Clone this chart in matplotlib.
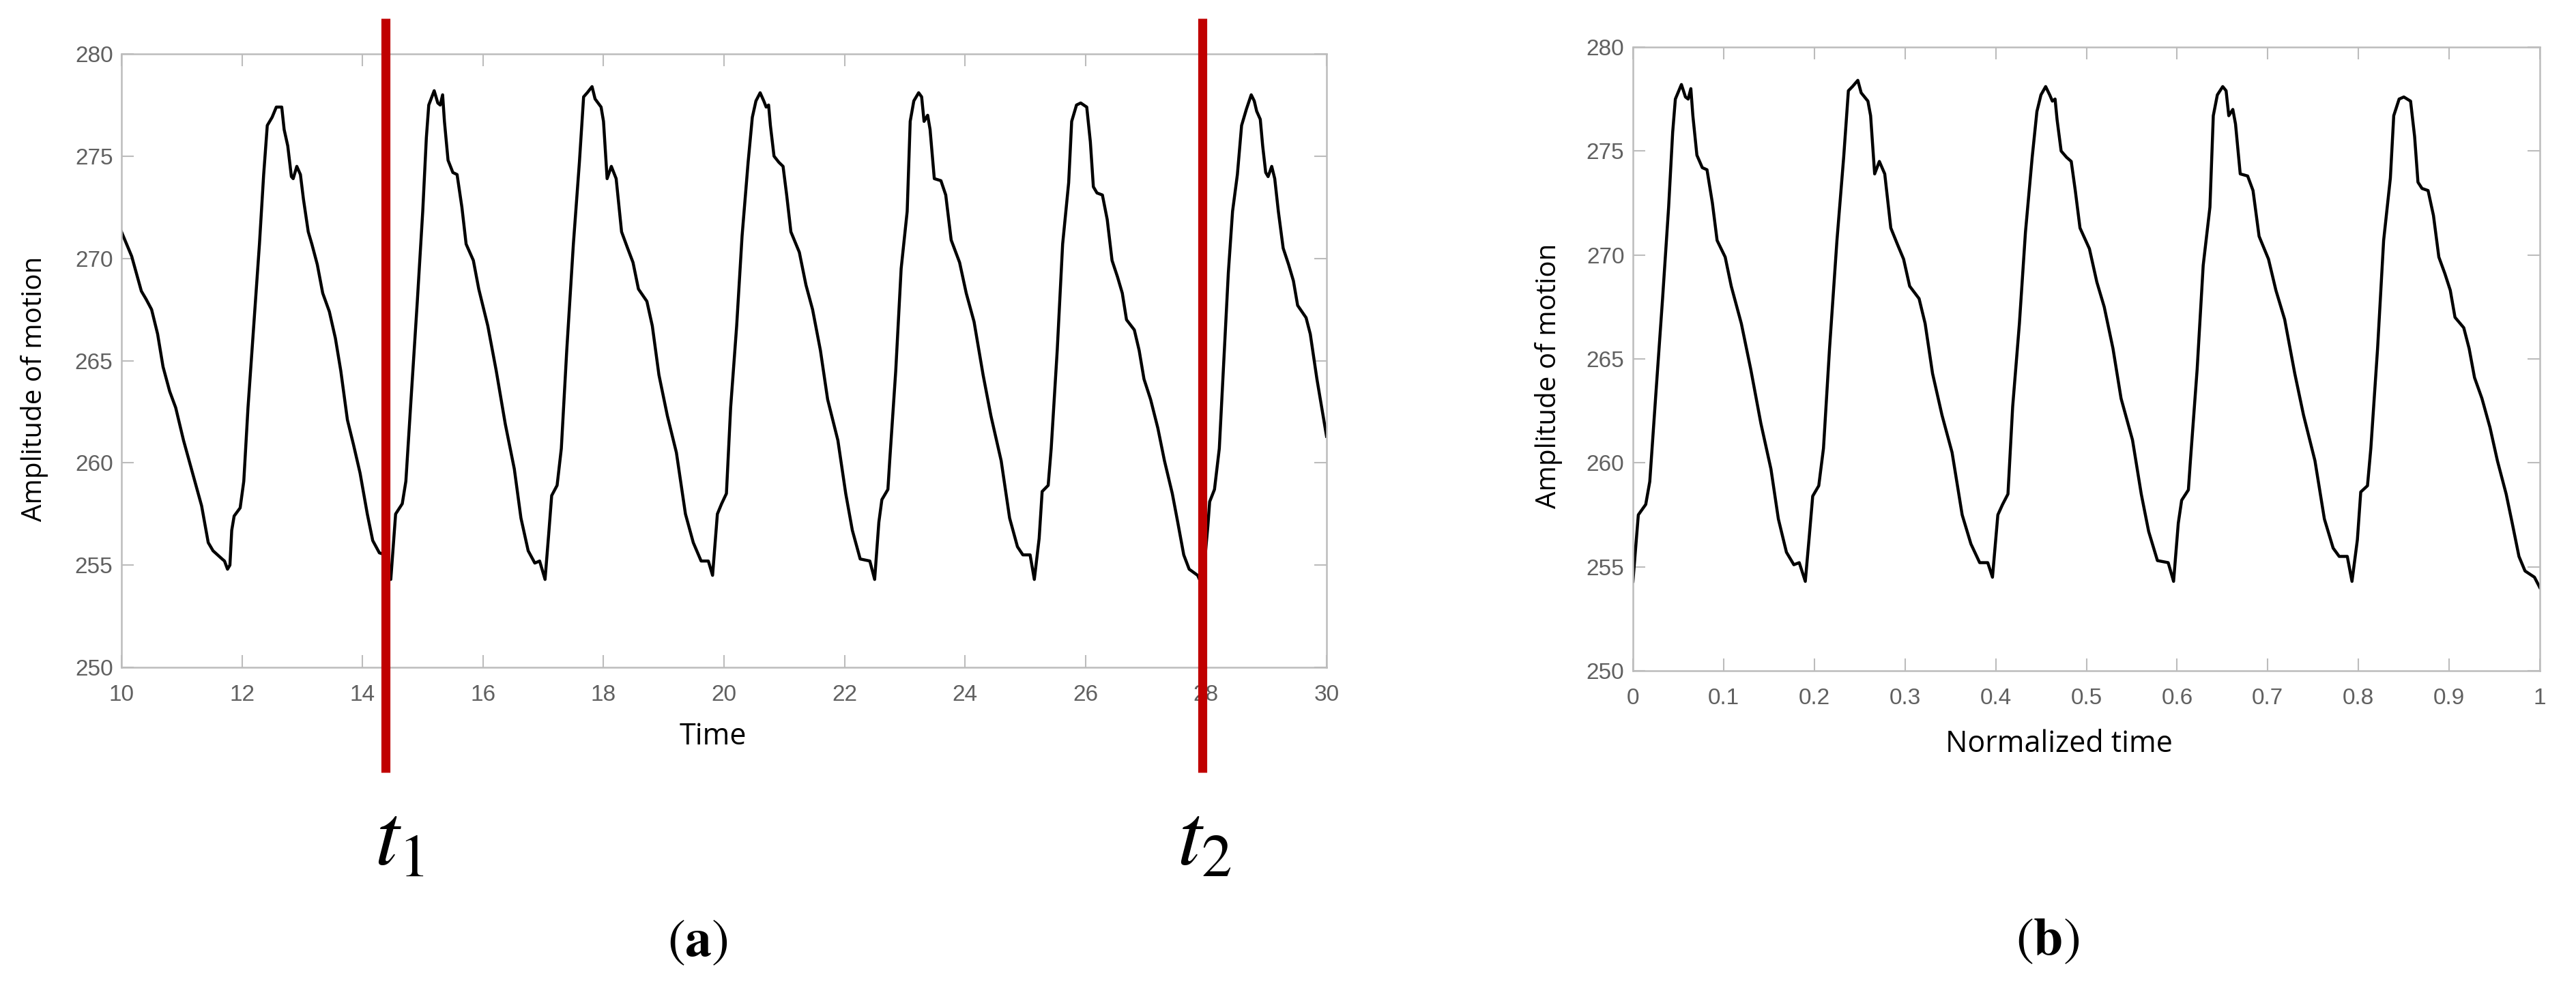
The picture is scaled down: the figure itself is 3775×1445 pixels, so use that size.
import numpy as np
import matplotlib.pyplot as plt

# signal
time_a = [
    10.00, 10.17, 10.33, 10.41, 10.50, 10.60, 10.69, 10.80, 10.90, 11.03,
    11.18, 11.33, 11.44, 11.52, 11.67, 11.71, 11.76, 11.80, 11.83, 11.87,
    11.97, 12.03, 12.10, 12.20, 12.29, 12.36, 12.42, 12.50, 12.57, 12.66,
    12.70, 12.76, 12.82, 12.85, 12.91, 12.97, 13.02, 13.10, 13.16, 13.25,
    13.34, 13.45, 13.55, 13.64, 13.75, 13.85, 13.96, 14.08, 14.17, 14.28,
    14.38, 14.47, 14.55, 14.66, 14.72, 14.81, 14.91, 15.00, 15.06, 15.10,
    15.19, 15.25, 15.29, 15.33, 15.36, 15.42, 15.50, 15.57, 15.65, 15.72,
    15.84, 15.93, 16.08, 16.22, 16.37, 16.52, 16.63, 16.75, 16.86, 16.94,
    16.99, 17.03, 17.09, 17.14, 17.23, 17.30, 17.39, 17.50, 17.60, 17.67,
    17.73, 17.81, 17.86, 17.96, 18.00, 18.06, 18.13, 18.21, 18.30, 18.40,
    18.49, 18.58, 18.72, 18.81, 18.92, 19.06, 19.21, 19.36, 19.49, 19.62,
    19.74, 19.81, 19.89, 19.96, 20.04, 20.11, 20.21, 20.30, 20.40, 20.47,
    20.53, 20.60, 20.66, 20.70, 20.74, 20.77, 20.83, 20.91, 20.98, 21.04,
    21.11, 21.25, 21.36, 21.47, 21.60, 21.72, 21.89, 22.02, 22.13, 22.26,
    22.42, 22.50, 22.57, 22.62, 22.72, 22.75, 22.85, 22.94, 23.04, 23.09,
    23.15, 23.23, 23.28, 23.32, 23.38, 23.42, 23.49, 23.60, 23.68, 23.77,
    23.91, 24.02, 24.15, 24.30, 24.43, 24.60, 24.74, 24.87, 24.96, 25.08,
    25.15, 25.23, 25.28, 25.38, 25.43, 25.53, 25.62, 25.72, 25.77, 25.85,
    25.92, 26.02, 26.08, 26.13, 26.19, 26.28, 26.36, 26.44, 26.53, 26.61,
    26.68, 26.81, 26.89, 26.97, 27.08, 27.20, 27.31, 27.44, 27.53, 27.63,
    27.72, 27.86, 27.94, 28.03, 28.06, 28.14, 28.22, 28.29, 28.37, 28.44,
    28.52, 28.59, 28.67, 28.75, 28.80, 28.84, 28.90, 28.94, 28.99, 29.03,
    29.09, 29.14, 29.20, 29.28, 29.37, 29.45, 29.52, 29.66, 29.73, 29.84,
    30.00,
]
amp_a = [
    271.3, 270.1, 268.4, 268.0, 267.5, 266.3, 264.7, 263.5, 262.7, 261.1,
    259.5, 257.9, 256.1, 255.7, 255.3, 255.2, 254.8, 255.0, 256.7, 257.4,
    257.8, 259.1, 262.7, 266.9, 270.7, 274.1, 276.5, 276.9, 277.4, 277.4,
    276.3, 275.5, 274.0, 273.9, 274.5, 274.1, 272.9, 271.3, 270.7, 269.7,
    268.3, 267.4, 266.1, 264.5, 262.1, 260.9, 259.5, 257.5, 256.2, 255.6,
    255.5, 254.3, 257.5, 258.0, 259.1, 263.3, 267.9, 272.3, 275.9, 277.5,
    278.2, 277.6, 277.5, 278.0, 276.7, 274.8, 274.2, 274.1, 272.5, 270.7,
    269.9, 268.5, 266.7, 264.5, 261.9, 259.7, 257.3, 255.7, 255.1, 255.2,
    254.7, 254.3, 256.5, 258.4, 258.9, 260.7, 265.5, 270.7, 274.7, 277.9,
    278.1, 278.4, 277.8, 277.4, 276.7, 273.9, 274.5, 273.9, 271.3, 270.5,
    269.8, 268.5, 267.9, 266.7, 264.3, 262.3, 260.5, 257.5, 256.1, 255.2,
    255.2, 254.5, 257.5, 258.0, 258.5, 262.7, 266.7, 271.1, 274.7, 276.9,
    277.7, 278.1, 277.7, 277.4, 277.5, 276.5, 275.0, 274.7, 274.5, 273.1,
    271.3, 270.3, 268.7, 267.5, 265.5, 263.1, 261.1, 258.5, 256.7, 255.3,
    255.2, 254.3, 257.1, 258.2, 258.7, 260.1, 264.5, 269.5, 272.3, 276.7,
    277.7, 278.1, 277.9, 276.7, 277.0, 276.3, 273.9, 273.8, 273.1, 270.9,
    269.8, 268.3, 266.9, 264.3, 262.3, 260.1, 257.3, 255.9, 255.5, 255.5,
    254.3, 256.3, 258.6, 258.9, 260.7, 265.5, 270.7, 273.7, 276.7, 277.5,
    277.6, 277.4, 275.7, 273.5, 273.2, 273.1, 271.9, 269.9, 269.1, 268.3,
    267.0, 266.5, 265.5, 264.1, 263.1, 261.7, 260.1, 258.5, 257.1, 255.5,
    254.8, 254.5, 254.0, 256.9, 258.1, 258.7, 260.7, 264.7, 269.3, 272.3,
    274.1, 276.5, 277.3, 278.0, 277.7, 277.2, 276.8, 275.5, 274.2, 274.0,
    274.5, 273.9, 272.3, 270.5, 269.7, 268.9, 267.7, 267.1, 266.3, 264.1,
    261.3,
]

# cut lines and the cycle minima used for panel (b)
t1, t2 = 14.38, 27.94
seg_start, seg_end = 14.47, 27.94

x_ticks_a = [10, 12, 14, 16, 18, 20, 22, 24, 26, 28, 30]
x_ticks_b = [0, 0.1, 0.2, 0.3, 0.4, 0.5, 0.6, 0.7, 0.8, 0.9, 1]
y_ticks = [250, 255, 260, 265, 270, 275, 280]

plt.rcParams['font.family'] = ['Open Sans', 'DejaVu Sans']
plt.rcParams['mathtext.fontset'] = 'stix'

W, H = 3775, 1445
fig = plt.figure(figsize=(W / 100, H / 100), dpi=100)


def box(left, top, right, bottom):
    return [left / W, 1 - bottom / H, (right - left) / W, (bottom - top) / H]


ax_a = fig.add_axes(box(178, 79, 1944, 978))
ax_b = fig.add_axes(box(2393, 69, 3722, 983))

time_a = np.array(time_a)
amp_a = np.array(amp_a)
keep = (time_a >= seg_start) & (time_a <= seg_end)
norm_b = (time_a[keep] - seg_start) / (seg_end - seg_start)
amp_b = amp_a[keep]

ax_a.plot(time_a, amp_a, color='black', lw=3.2, solid_joinstyle='round')
ax_b.plot(norm_b, amp_b, color='black', lw=3.2, solid_joinstyle='round')

for ax, xt in ((ax_a, x_ticks_a), (ax_b, x_ticks_b)):
    ax.set_xlim(xt[0], xt[-1])
    ax.set_ylim(250, 280)
    ax.set_xticks(xt, ['%g' % v for v in xt], fontfamily='Liberation Sans')
    ax.set_yticks(y_ticks, ['%g' % v for v in y_ticks], fontfamily='Liberation Sans')
    for s in ax.spines.values():
        s.set_color('#bcbcbc')
        s.set_linewidth(1.8)
    ax.tick_params(direction='in', length=13, width=1.5, color='#bcbcbc',
                   top=True, right=True, labelsize=24, labelcolor='#606060')
    ax.tick_params(axis='x', pad=18)
    ax.tick_params(axis='y', pad=9)

ax_a.set_xlabel('Time', fontsize=31)
ax_a.xaxis.set_label_coords(0.491, -0.088)
ax_b.set_xlabel('Normalized time', fontsize=31)
ax_b.xaxis.set_label_coords(0.4695, -0.094)

fig.text(51 / W, 1 - 570 / H, 'Amplitude of motion', rotation=90,
         ha='center', va='center', fontsize=29)
fig.text(2269 / W, 1 - 551 / H, 'Amplitude of motion', rotation=90,
         ha='center', va='center', fontsize=29)

# red cut lines reaching past the axes
for t in (t1, t2):
    ax_a.plot([t, t], [1.058, -0.171], transform=ax_a.get_xaxis_transform(),
              color='#c00000', lw=9.5, clip_on=False, solid_capstyle='butt',
              zorder=5)

ax_a.text(14.61, -0.322, r'$t_1$', transform=ax_a.get_xaxis_transform(),
          fontsize=92, ha='center', va='baseline')
ax_a.text(27.97, -0.322, r'$t_2$', transform=ax_a.get_xaxis_transform(),
          fontsize=92, ha='center', va='baseline')

fig.text(1022 / W, 1 - 1381 / H, r'$(\mathbf{a})$', fontsize=56,
         ha='center', va='center')
fig.text(3001 / W, 1 - 1379 / H, r'$(\mathbf{b})$', fontsize=56,
         ha='center', va='center')

fig.savefig('out.png', dpi=100, facecolor='white')
